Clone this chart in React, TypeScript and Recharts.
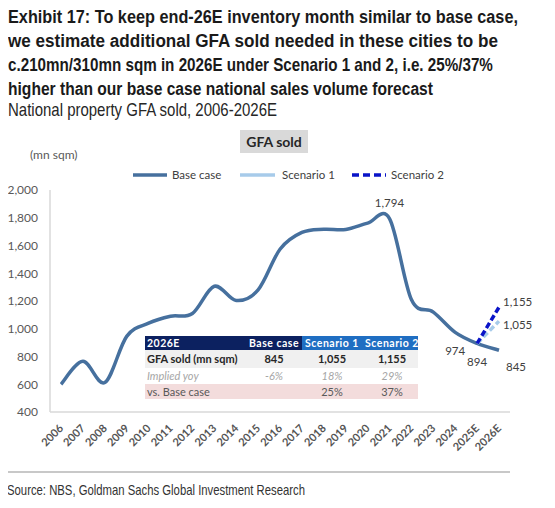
import React, { useLayoutEffect, useRef, useState } from 'react';
import { LineChart, Line, XAxis, YAxis } from 'recharts';

const years = ['2006', '2007', '2008', '2009', '2010', '2011', '2012', '2013', '2014', '2015', '2016', '2017', '2018', '2019', '2020', '2021', '2022', '2023', '2024', '2025E', '2026E'];
const baseCase = [600, 765, 612, 945, 1040, 1090, 1110, 1306, 1204, 1280, 1573, 1694, 1717, 1716, 1761, 1794, 1210, 1120, 974, 894, 845];
const scenario1 = [null, null, null, null, null, null, null, null, null, null, null, null, null, null, null, null, null, null, null, 894, 1055];
const scenario2 = [null, null, null, null, null, null, null, null, null, null, null, null, null, null, null, null, null, null, null, 894, 1155];
const yTicks = [400, 600, 800, 1000, 1200, 1400, 1600, 1800, 2000];

const titleLines = [
  'Exhibit 17: To keep end-26E inventory month similar to base case,',
  'we estimate additional GFA sold needed in these cities to be',
  'c.210mn/310mn sqm in 2026E under Scenario 1 and 2, i.e. 25%/37%',
  'higher than our base case national sales volume forecast',
];
const titleWidths = [510, 490, 485, 425];
const subtitle = 'National property GFA sold, 2006-2026E';
const source = 'Source: NBS, Goldman Sachs Global Investment Research';

const tableHeader = ['2026E', 'Base case', 'Scenario 1', 'Scenario 2'];
const rowGfa = ['GFA sold (mn sqm)', '845', '1,055', '1,155'];
const rowYoy = ['Implied yoy', '-6%', '18%', '29%'];
const rowVs = ['vs. Base case', '', '25%', '37%'];

const data = years.map((y, i) => ({ year: y, base: baseCase[i], s1: scenario1[i], s2: scenario2[i] }));

const BASE_COLOR = '#46709e';
const S1_COLOR = '#a7cbea';
const S2_COLOR = '#0a14c8';
const CHART_FONT = 'Lato, "Open Sans", sans-serif';
const NARROW_FONT = '"Liberation Sans", Arial, sans-serif';

function catmullRom(context: any) {
  let pts: number[][] = [];
  return {
    areaStart() {},
    areaEnd() {},
    lineStart() {
      pts = [];
    },
    point(x: number, y: number) {
      pts.push([+x, +y]);
    },
    lineEnd() {
      const n = pts.length;
      if (!n) return;
      context.moveTo(pts[0][0], pts[0][1]);
      if (n === 1) return;
      for (let i = 0; i < n - 1; i++) {
        const p0 = pts[i > 0 ? i - 1 : i];
        const p1 = pts[i];
        const p2 = pts[i + 1];
        const p3 = pts[i + 2 < n ? i + 2 : i + 1];
        context.bezierCurveTo(
          p1[0] + (p2[0] - p0[0]) / 6,
          p1[1] + (p2[1] - p0[1]) / 6,
          p2[0] - (p3[0] - p1[0]) / 6,
          p2[1] - (p3[1] - p1[1]) / 6,
          p2[0],
          p2[1]
        );
      }
    },
  };
}

const fmt = (v: number) => v.toLocaleString('en-US');

const labelStyle = { fontFamily: CHART_FONT, fontSize: 11.5, fill: '#404040' };

const baseLabel = (p: any) => {
  const { x, y, index, value } = p;
  if (index === 15) return <text key={index} x={x} y={y - 12} textAnchor="middle" {...labelStyle}>{fmt(value)}</text>;
  if (index === 18 || index === 19) return <text key={index} x={x} y={y + 23} textAnchor="middle" {...labelStyle}>{fmt(value)}</text>;
  if (index === 20) return <text key={index} x={x + 17} y={y + 21} textAnchor="middle" {...labelStyle}>{fmt(value)}</text>;
  return <g key={index} />;
};

const s1Label = (p: any) => {
  const { x, y, index, value } = p;
  if (index === 20) return <text key={index} x={x + 4} y={y + 8} textAnchor="start" {...labelStyle}>{fmt(value)}</text>;
  return <g key={index} />;
};

const s2Label = (p: any) => {
  const { x, y, index, value } = p;
  if (index === 20) return <text key={index} x={x + 4} y={y - 1} textAnchor="start" {...labelStyle}>{fmt(value)}</text>;
  return <g key={index} />;
};

const XTick = (p: any) => {
  const { x, y, payload } = p;
  const ax = x + 3;
  const ay = y + 17;
  return (
    <text x={ax} y={ay} transform={`rotate(-45 ${ax} ${ay})`} textAnchor="end" fontFamily={CHART_FONT} fontSize={11} fontWeight={700} fill="#555555">
      {payload.value}
    </text>
  );
};

function FitText(props: { x: number; y: number; width: number; children: string; fontSize: number; fontWeight?: number; fill: string }) {
  const ref = useRef<SVGTextElement | null>(null);
  const [scale, setScale] = useState(0.75);
  useLayoutEffect(() => {
    if (ref.current) {
      const prev = ref.current.getAttribute('transform');
      const w = ref.current.getComputedTextLength();
      if (w > 0) setScale(props.width / w);
    }
  }, [props.width, props.children]);
  return (
    <text
      ref={ref}
      x={0}
      y={0}
      transform={`translate(${props.x} ${props.y}) scale(${scale} 1)`}
      fontFamily={NARROW_FONT}
      fontSize={props.fontSize}
      fontWeight={props.fontWeight || 400}
      fill={props.fill}
    >
      {props.children}
    </text>
  );
}

function Header() {
  return (
    <svg width={555} height={125} style={{ position: 'absolute', left: 0, top: 0 }}>
      {titleLines.map((l, i) => (
        <FitText key={i} x={8} y={23 + i * 24} width={titleWidths[i]} fontSize={18.5} fontWeight={700} fill="#1a1a1a">
          {l}
        </FitText>
      ))}
      <FitText x={8} y={116} width={269} fontSize={17.5} fill="#262626">
        {subtitle}
      </FitText>
    </svg>
  );
}

function Legend() {
  const t = { fontFamily: CHART_FONT, fontSize: 11.5, fill: '#404040' };
  return (
    <svg width={555} height={30} style={{ position: 'absolute', left: 0, top: 160 }}>
      <line x1={133} y1={15} x2={167} y2={15} stroke={BASE_COLOR} strokeWidth={3.5} />
      <text x={172} y={19} {...t}>Base case</text>
      <line x1={240} y1={15} x2={275} y2={15} stroke={S1_COLOR} strokeWidth={3.5} />
      <text x={282} y={19} {...t}>Scenario 1</text>
      <line x1={352} y1={15} x2={386} y2={15} stroke={S2_COLOR} strokeWidth={3.5} strokeDasharray="7 4" />
      <text x={391} y={19} {...t}>Scenario 2</text>
    </svg>
  );
}

function Table() {
  const cols = [147, 274, 332, 392];
  const rows = [
    { y0: 336, y1: 350, cells: tableHeader, kind: 'header' },
    { y0: 350, y1: 368, cells: rowGfa, kind: 'gfa' },
    { y0: 368, y1: 384, cells: rowYoy, kind: 'yoy' },
    { y0: 384, y1: 399, cells: rowVs, kind: 'vs' },
  ];
  return (
    <svg width={555} height={508} style={{ position: 'absolute', left: 0, top: 0, pointerEvents: 'none' }}>
      <rect x={145} y={336} width={157} height={14} fill="#0c2160" />
      <rect x={302} y={336} width={116} height={14} fill="#1f6ec2" />
      <rect x={145} y={350} width={273} height={18} fill="#f0f0f0" />
      <rect x={145} y={368} width={273} height={16} fill="#ffffff" />
      <rect x={145} y={384} width={273} height={15} fill="#f3dcdc" />
      {rows.map((r) => {
        const cy = (r.y0 + r.y1) / 2 + 4;
        return r.cells.map((c, j) => {
          let style: any = { fontFamily: CHART_FONT, fontSize: 11 };
          if (r.kind === 'header') style = { ...style, fill: '#ffffff', fontWeight: 700, fontSize: 10.5, letterSpacing: 0.5 };
          if (r.kind === 'gfa') style = { ...style, fill: '#262626', fontWeight: 700 };
          if (r.kind === 'yoy') style = { ...style, fill: '#a6a6a6', fontStyle: 'italic' };
          if (r.kind === 'vs') style = { ...style, fill: '#595959' };
          return (
            <text key={r.kind + j} x={cols[j]} y={cy} textAnchor={j === 0 ? 'start' : 'middle'} {...style}>
              {c}
            </text>
          );
        });
      })}
    </svg>
  );
}

export default function App() {
  return (
    <div style={{ position: 'relative', width: 555, height: 508, margin: '-8px 0 0 -8px', background: '#fff', overflow: 'hidden' }}>
      <Header />

      <div style={{ position: 'absolute', left: 240, top: 130, width: 68, height: 23, background: '#d9d9d9', fontFamily: CHART_FONT, fontWeight: 700, fontSize: 14, lineHeight: '23px', textAlign: 'center', color: '#262626' }}>
        GFA sold
      </div>
      <div style={{ position: 'absolute', left: 30, top: 147, fontFamily: CHART_FONT, fontSize: 12, color: '#595959', lineHeight: '16px' }}>(mn sqm)</div>

      <Legend />

      <div style={{ position: 'absolute', left: 0, top: 0 }}>
        <LineChart width={555} height={508} data={data} margin={{ top: 190, right: 45, left: 10, bottom: 66 }}>
          <XAxis dataKey="year" interval={0} tickLine={false} tickSize={0} tickMargin={0} height={30} padding={{ left: 11, right: 11 }} axisLine={{ stroke: '#d9d9d9', strokeWidth: 1.5 }} tick={<XTick />} />
          <YAxis domain={[400, 2000]} ticks={yTicks} width={40} tickLine={false} tickSize={0} tickMargin={12} axisLine={{ stroke: '#d9d9d9', strokeWidth: 1.5 }} tickFormatter={fmt} tick={{ fontFamily: CHART_FONT, fontSize: 12, fill: '#595959' }} interval={0} />
          <Line dataKey="base" type={catmullRom as any} stroke={BASE_COLOR} strokeWidth={3.5} dot={false} activeDot={false} isAnimationActive={false} label={baseLabel} />
          <Line dataKey="s1" type="linear" stroke={S1_COLOR} strokeWidth={3.5} strokeDasharray="6 3" dot={false} activeDot={false} isAnimationActive={false} label={s1Label} />
          <Line dataKey="s2" type="linear" stroke={S2_COLOR} strokeWidth={3.5} strokeDasharray="6 3" dot={false} activeDot={false} isAnimationActive={false} label={s2Label} />
        </LineChart>
      </div>

      <Table />

      <div style={{ position: 'absolute', left: 5, top: 471, width: 505, height: 2, background: '#c8c8c8' }} />
      <svg width={555} height={30} style={{ position: 'absolute', left: 0, top: 478 }}>
        <FitText x={7} y={17} width={298} fontSize={14} fill="#333333">
          {source}
        </FitText>
      </svg>
    </div>
  );
}
